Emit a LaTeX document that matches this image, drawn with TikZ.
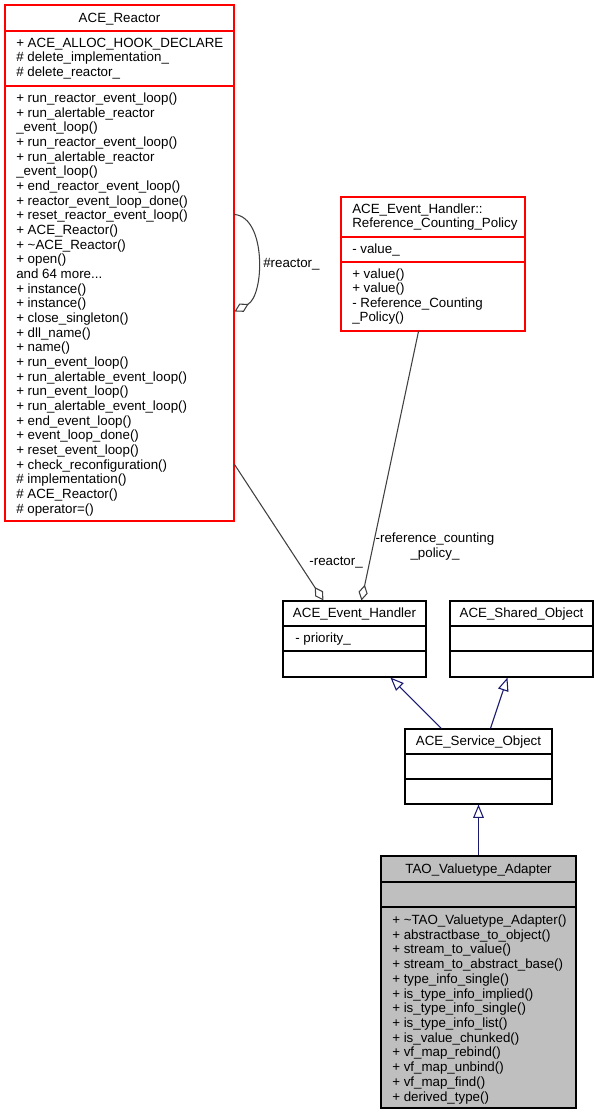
\documentclass[tikz,border=0pt]{standalone}
\usepackage{fontspec}
\setmainfont{Liberation Sans}
\usetikzlibrary{calc,fit,arrows.meta}

\definecolor{edgeblue}{HTML}{191970}
\definecolor{edgegray}{HTML}{404040}
\definecolor{boxgray}{HTML}{BFBFBF}

\def\lh{14.67}
\def\lw{0.8pt}
\def\moreops{and 64 more...}

\tikzset{
  classbox/.style={draw, line width=\lw, inner sep=0pt},
  classname/.style={anchor=base, inner sep=0pt, font=\fontsize{10}{11}\selectfont},
  member/.style={anchor=base west, inner sep=0pt, font=\fontsize{10}{11}\selectfont},
  edgelabel/.style={inner sep=0pt, font=\fontsize{10}{11}\selectfont},
  inheritline/.style={edgeblue, line width=\lw, -{Triangle[open, length=10pt, width=8pt]}},
  aggr/.style={edgegray, line width=\lw, -{Diamond[open, length=12pt, width=7pt]}},
}

\begin{document}
\begin{tikzpicture}[x=0.75pt,y=-0.75pt]
\useasboundingbox (0,0) rectangle (597,1115);

%This is ACE_Reactor (red)
\node[classbox, red, fit={(5,5) (234,521)}] (reactor) {};
\draw[red, line width=\lw] (5,31) -- (234,31) (5,86) -- (234,86);
\node[classname] (reactorName) at (119.5,22) {ACE\_Reactor};

\foreach \t [count=\i from 0] in {{+ ACE\_ALLOC\_HOOK\_DECLARE},{\# delete\_implementation\_},{\# delete\_reactor\_}}{
    \node[member] (reactorAttr\i) at (16,47+\i*\lh) {\t};
}

\foreach \t [count=\i from 0] in {
    {+ run\_reactor\_event\_loop()},
    {+ run\_alertable\_reactor},
    {\_event\_loop()},
    {+ run\_reactor\_event\_loop()},
    {+ run\_alertable\_reactor},
    {\_event\_loop()},
    {+ end\_reactor\_event\_loop()},
    {+ reactor\_event\_loop\_done()},
    {+ reset\_reactor\_event\_loop()},
    {+ ACE\_Reactor()},
    {+ \textasciitilde ACE\_Reactor()},
    {+ open()},
    {\moreops},
    {+ instance()},
    {+ instance()},
    {+ close\_singleton()},
    {+ dll\_name()},
    {+ name()},
    {+ run\_event\_loop()},
    {+ run\_alertable\_event\_loop()},
    {+ run\_event\_loop()},
    {+ run\_alertable\_event\_loop()},
    {+ end\_event\_loop()},
    {+ event\_loop\_done()},
    {+ reset\_event\_loop()},
    {+ check\_reconfiguration()},
    {\# implementation()},
    {\# ACE\_Reactor()},
    {\# operator=()}}{
    \node[member] (reactorOp\i) at (16,102.5+\i*\lh) {\t};
}

%This is ACE_Event_Handler::Reference_Counting_Policy (red)
\node[classbox, red, fit={(341,197) (525,331)}] (policy) {};
\draw[red, line width=\lw] (341,237) -- (525,237) (341,262) -- (525,262);
\node[member] (policyName1) at (352,213) {ACE\_Event\_Handler::};
\node[member] (policyName2) at (352,227) {Reference\_Counting\_Policy};
\node[member] (policyAttr) at (352,253) {- value\_};

\foreach \t [count=\i from 0] in {{+ value()},{+ value()},{- Reference\_Counting},{\_Policy()}}{
    \node[member] (policyOp\i) at (352,278.5+\i*14.4) {\t};
}

%ACE_Event_Handler
\node[classbox, fit={(283,601) (426,677)}] (handler) {};
\draw[line width=\lw] (283,626) -- (426,626) (283,651) -- (426,651);
\node[classname] (handlerName) at (354.5,617) {ACE\_Event\_Handler};
\node[member] (handlerAttr) at (295,642.5) {- priority\_};

%ACE_Shared_Object
\node[classbox, fit={(450,601) (593,677)}] (shared) {};
\draw[line width=\lw] (450,626) -- (593,626) (450,651) -- (593,651);
\node[classname] (sharedName) at (521.5,617) {ACE\_Shared\_Object};

%ACE_Service_Object
\node[classbox, fit={(405,729) (552,804)}] (service) {};
\draw[line width=\lw] (405,754) -- (552,754) (405,779) -- (552,779);
\node[classname] (serviceName) at (478.5,745.5) {ACE\_Service\_Object};

%TAO_Valuetype_Adapter (grey)
\node[classbox, fill=boxgray, fit={(381,856) (576,1108)}] (tao) {};
\draw[line width=\lw] (381,882) -- (576,882) (381,907) -- (576,907);
\node[classname] (taoName) at (478.5,873) {TAO\_Valuetype\_Adapter};

\foreach \t [count=\i from 0] in {
    {+ \textasciitilde TAO\_Valuetype\_Adapter()},
    {+ abstractbase\_to\_object()},
    {+ stream\_to\_value()},
    {+ stream\_to\_abstract\_base()},
    {+ type\_info\_single()},
    {+ is\_type\_info\_implied()},
    {+ is\_type\_info\_single()},
    {+ is\_type\_info\_list()},
    {+ is\_value\_chunked()},
    {+ vf\_map\_rebind()},
    {+ vf\_map\_unbind()},
    {+ vf\_map\_find()},
    {+ derived\_type()}}{
    \node[member] (taoOp\i) at (392,924.5+\i*14.72) {\t};
}

%inheritance
\draw[inheritline] ($(service.north west)+(37,0)$) -- ($(handler.south west)+(108,0)$);
\draw[inheritline] ($(service.north west)+(86,0)$) -- ($(shared.south west)+(58,0)$);
\draw[inheritline] (tao.north) -- (service.south);

%aggregation
\draw[aggr] ($(reactor.north east)+(0,210)$) .. controls ($(reactor.north east)+(32,213)$) and ($(reactor.north east)+(30,291)$) .. ($(reactor.north east)+(0,307)$);
\draw[aggr] ($(reactor.north east)+(0,460)$) -- ($(handler.north west)+(41,0)$);
\draw[aggr] ($(policy.south west)+(78,0)$) -- ($(handler.north west)+(79,0)$);

\node[edgelabel, anchor=base west] (selfLabel) at (263,267.5) {\#reactor\_};
\node[edgelabel, anchor=base east] (reactorLabel) at (363,565.5) {-reactor\_};
\node[edgelabel, anchor=base, align=center] (policyLabel) at (435,557) {-reference\_counting\\\_policy\_};

\end{tikzpicture}
\end{document}
